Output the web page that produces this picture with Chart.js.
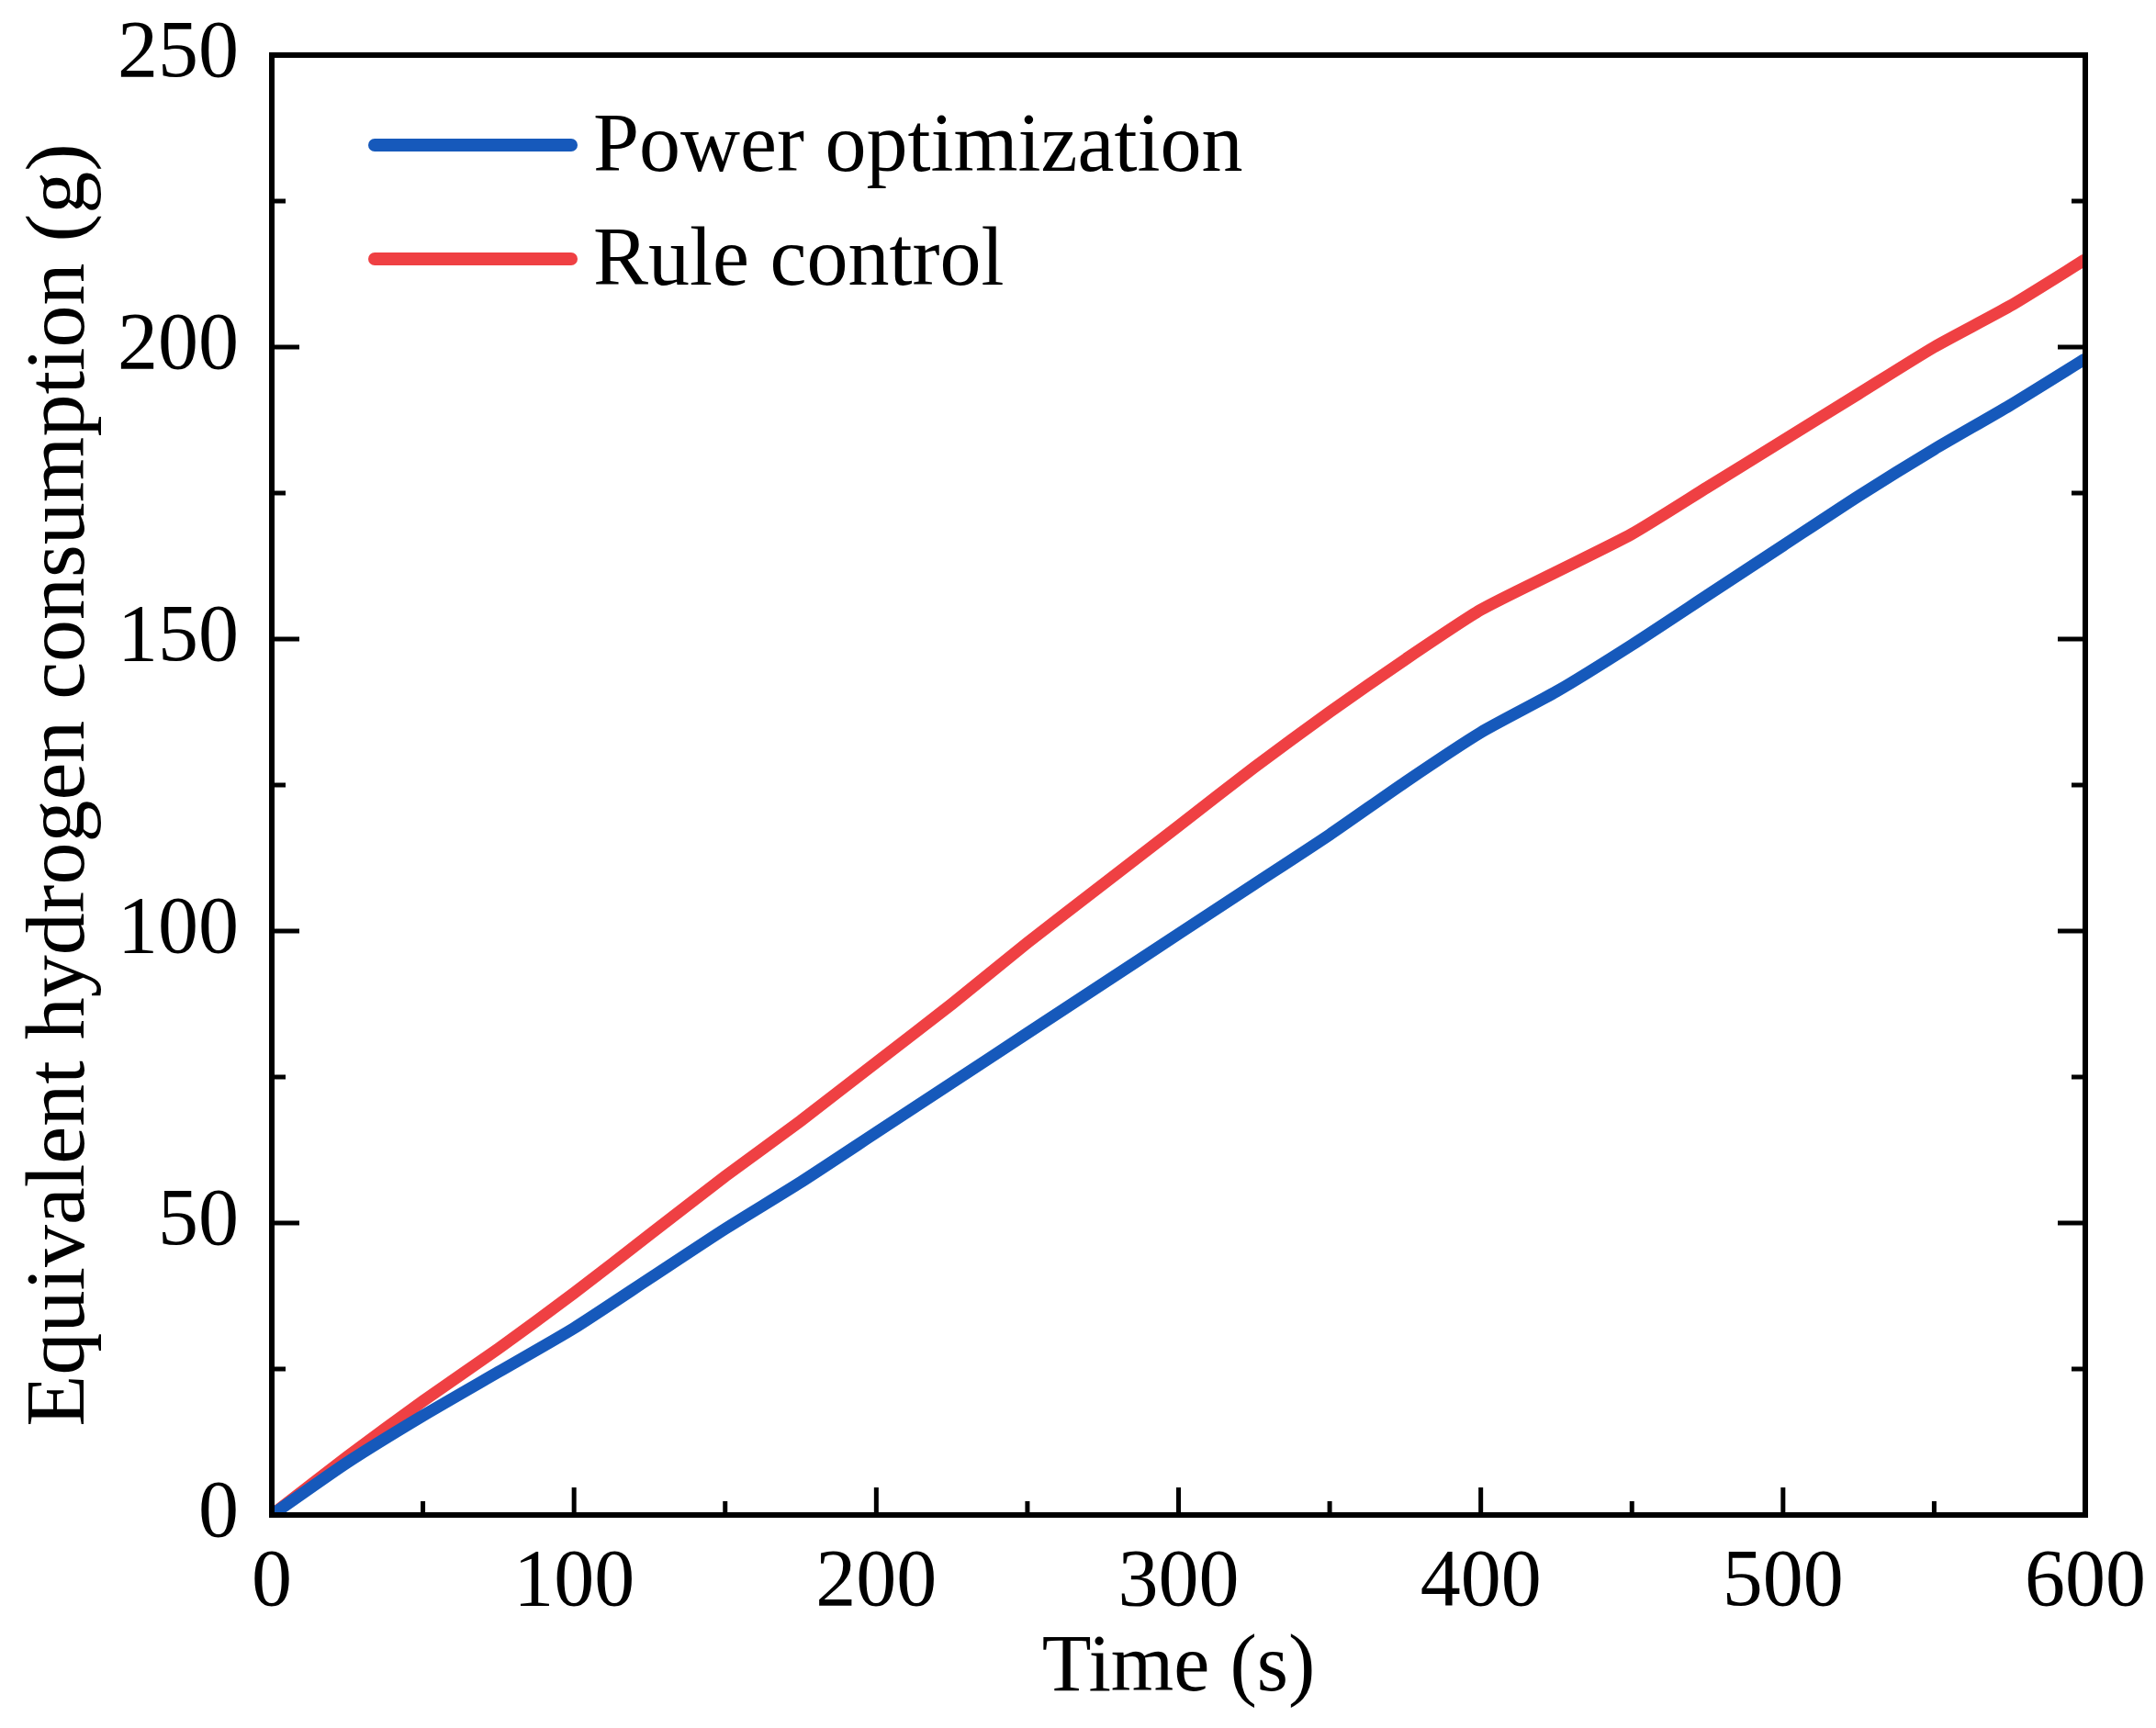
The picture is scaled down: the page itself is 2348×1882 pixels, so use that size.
<!DOCTYPE html>
<html>
<head>
<meta charset="utf-8">
<script src="https://cdn.jsdelivr.net/npm/chart.js@4.4.1/dist/chart.umd.min.js"></script>
<style>
  html, body { margin: 0; padding: 0; background: #fff; }
  #wrap { width: 2348px; height: 1882px; }
</style>
</head>
<body>
<div id="wrap"><canvas id="chart" width="2348" height="1882"></canvas></div>
<script>
// data
const timeS = [0, 25, 50, 75, 100, 125, 150, 175, 200, 225, 250, 275, 300,
  325, 350, 375, 400, 425, 450, 475, 500, 525, 550, 575, 600];
const powerOpt = [0, 9, 17, 24.5, 32, 40.5, 49, 57, 65.5, 74, 82.5, 91, 99.5,
  108, 116.5, 125.5, 134, 141, 149, 157.5, 166, 174.5, 182.5, 190, 198];
const ruleCtrl = [0, 10, 19.5, 28.5, 38, 48, 58, 67.5, 77.5, 87.5, 98, 108, 118,
  128, 137.5, 146.5, 155, 161.5, 168, 176, 184, 192, 200, 207, 215];
const seriesNames = ["Power optimization", "Rule control"];
const seriesColors = ["#1659BB", "#EF4043"];
const xTickMax = 600, yTickMax = 250;

const FONT = "'Liberation Serif', 'DejaVu Serif', serif";

const points = arr => timeS.map((t, i) => ({ x: t, y: arr[i] }));

// frame + inside ticks
const framePlugin = {
  id: "frame",
  afterDraw(chart) {
    const { ctx, chartArea: a, scales } = chart;
    ctx.save();
    ctx.strokeStyle = "#000";
    ctx.lineWidth = 5;
    ctx.lineCap = "butt";
    const xs = scales.x.ticks.map(t => t.value);
    const ys = scales.y.ticks.map(t => t.value);
    const tick = (x1, y1, x2, y2) => { ctx.beginPath(); ctx.moveTo(x1, y1); ctx.lineTo(x2, y2); ctx.stroke(); };
    xs.forEach((v, i) => {
      const px = scales.x.getPixelForValue(v);
      tick(px, a.bottom, px, a.bottom - 30);
      if (i < xs.length - 1) {
        const mx = scales.x.getPixelForValue((v + xs[i + 1]) / 2);
        tick(mx, a.bottom, mx, a.bottom - 15);
      }
    });
    ys.forEach((v, i) => {
      const py = scales.y.getPixelForValue(v);
      tick(a.left, py, a.left + 30, py);
      tick(a.right, py, a.right - 30, py);
      if (i < ys.length - 1) {
        const my = scales.y.getPixelForValue((v + ys[i + 1]) / 2);
        tick(a.left, my, a.left + 15, my);
        tick(a.right, my, a.right - 15, my);
      }
    });
    ctx.lineWidth = 6;
    ctx.strokeRect(a.left, a.top, a.right - a.left, a.bottom - a.top);
    ctx.restore();
  }
};

// legend drawn inside the plot, top-left
const legendPlugin = {
  id: "innerLegend",
  afterDatasetsDraw(chart) {
    const { ctx } = chart;
    ctx.save();
    chart.data.datasets.forEach((ds, i) => {
      const y = 158 + i * 124;
      ctx.strokeStyle = ds.borderColor;
      ctx.lineWidth = 14;
      ctx.lineCap = "round";
      ctx.beginPath();
      ctx.moveTo(408, y);
      ctx.lineTo(622, y);
      ctx.stroke();
      ctx.fillStyle = "#000";
      ctx.font = "90px " + FONT;
      ctx.textBaseline = "middle";
      ctx.fillText(ds.label, 646, y + 4);
    });
    ctx.restore();
  }
};

new Chart(document.getElementById("chart"), {
  type: "line",
  data: {
    datasets: [
      { label: seriesNames[0], data: points(powerOpt), borderColor: seriesColors[0], borderWidth: 13, pointRadius: 0, tension: 0.2, fill: false },
      { label: seriesNames[1], data: points(ruleCtrl), borderColor: seriesColors[1], borderWidth: 13, pointRadius: 0, tension: 0.2, fill: false }
    ]
  },
  options: {
    responsive: false,
    devicePixelRatio: 1,
    animation: false,
    layout: { padding: { top: 60, right: 77, left: 0, bottom: 0 } },
    plugins: { legend: { display: false }, tooltip: { enabled: false } },
    scales: {
      x: {
        type: "linear", min: 0, max: xTickMax,
        grid: { display: false, drawTicks: false },
        border: { display: false },
        ticks: { stepSize: 100, color: "#000", padding: 22, font: { family: FONT, size: 88 } },
        title: { display: true, text: "Time (s)", color: "#000", padding: { top: 0, bottom: 11 }, font: { family: FONT, size: 88 } },
        afterFit(s) { s.height = 232; s.paddingLeft = 0; s.paddingRight = 0; }
      },
      y: {
        min: 0, max: yTickMax,
        grid: { display: false, drawTicks: false },
        border: { display: false },
        ticks: { stepSize: 50, color: "#000", padding: 36, font: { family: FONT, size: 88 } },
        title: { display: true, text: "Equivalent hydrogen consumption (g)", color: "#000", padding: { top: 12, bottom: 0 }, font: { family: FONT, size: 92 } },
        afterFit(s) { s.width = 296; s.paddingTop = 0; s.paddingBottom = 0; }
      }
    }
  },
  plugins: [framePlugin, legendPlugin]
});
</script>
</body>
</html>
